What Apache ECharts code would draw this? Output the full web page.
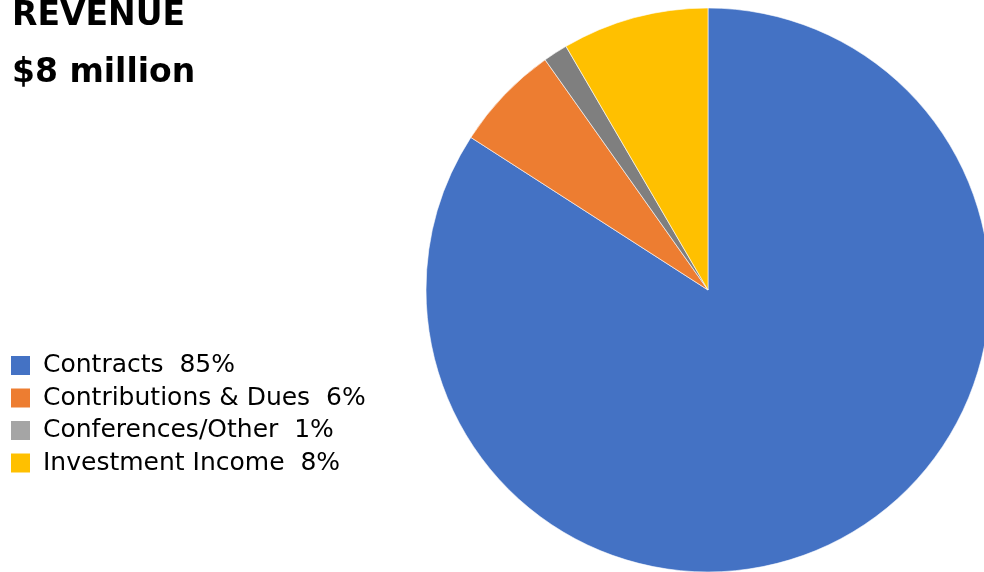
<!DOCTYPE html>
<html><head><meta charset="utf-8">
<script src="https://cdn.jsdelivr.net/npm/echarts@6/dist/echarts.min.js"></script>
<style>html,body{margin:0;padding:0;background:#fff}#c{width:984px;height:572px}</style>
</head><body><div id="c"></div>
<script>
const categories = ['Contracts', 'Contributions & Dues', 'Conferences/Other', 'Investment Income'];
const values = [84.1, 6.1, 1.4, 8.4];
const pctLabels = ['85%', '6%', '1%', '8%'];
const sliceColors = ['#4472C4', '#ED7D31', '#7F7F7F', '#FFC000'];
const legendColors = ['#4472C4', '#ED7D31', '#A5A5A5', '#FFC000'];
const titleText = 'REVENUE';
const subtitleText = '$8 million';

const chart = echarts.init(document.getElementById('c'), null, {renderer: 'canvas'});
chart.setOption({
  animation: false,
  backgroundColor: '#fff',
  graphic: [
    {type: 'text', left: 12, top: 0, style: {text: titleText, font: 'bold 33px "DejaVu Sans"', fill: '#000'}},
    {type: 'text', left: 12, top: 57, style: {text: subtitleText, font: 'bold 33px "DejaVu Sans"', fill: '#000'}}
  ],
  legend: {
    orient: 'vertical',
    left: 9,
    top: 353,
    padding: 0,
    icon: 'rect',
    itemWidth: 21,
    itemHeight: 21,
    itemGap: 7.5,
    selectedMode: false,
    data: categories.map((c, i) => ({name: c, itemStyle: {color: legendColors[i]}})),
    formatter: name => name + '  ' + pctLabels[categories.indexOf(name)],
    textStyle: {fontFamily: 'DejaVu Sans', fontSize: 25, color: '#000', lineHeight: 25, padding: [0, 0, 0, 7]}
  },
  series: [{
    type: 'pie',
    center: [708, 290],
    radius: 282,
    startAngle: 90,
    clockwise: true,
    label: {show: false},
    labelLine: {show: false},
    emphasis: {disabled: true},
    itemStyle: {borderColor: '#ffffff', borderWidth: 0.6},
    data: categories.map((c, i) => ({name: c, value: values[i], itemStyle: {color: sliceColors[i]}}))
  }]
});
</script></body></html>
